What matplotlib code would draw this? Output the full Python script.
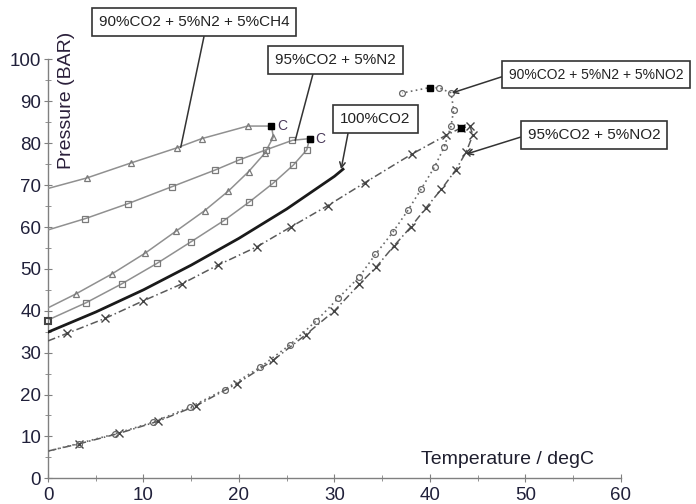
import matplotlib
matplotlib.use("Agg")
import matplotlib.pyplot as plt
from matplotlib.ticker import MultipleLocator

plt.rcParams['font.family'] = ['Liberation Sans', 'DejaVu Sans']

# ---- data ----
ch4_T = [0, 4.05, 8.7, 13.5, 16.1, 20.9, 23.4, 23.6, 22.7, 21.0, 18.9, 16.4, 13.4, 10.2, 6.7, 2.9, 0]
ch4_P = [69.2, 71.7, 75.3, 78.9, 81.1, 84.1, 84.1, 81.5, 77.6, 73.2, 68.6, 63.9, 59.0, 53.8, 48.8, 44.0, 40.7]
ch4_crit = (23.4, 84.1)

n2_T = [0, 3.9, 8.4, 12.95, 17.5, 20.0, 22.8, 25.6, 27.4, 27.1, 25.7, 23.6, 21.1, 18.4, 15.0, 11.4, 7.7, 3.97, 0]
n2_P = [59.3, 62.0, 65.6, 69.6, 73.6, 76.0, 78.4, 80.7, 81.1, 78.4, 74.8, 70.5, 66.0, 61.5, 56.5, 51.3, 46.4, 41.9, 37.8]
n2_crit = (27.4, 81.1)

co2_T = [0, 5, 10, 15, 20, 25, 30, 30.9]
co2_P = [34.9, 39.7, 45.0, 50.9, 57.3, 64.3, 72.1, 73.8]

no2_T = [0, 2.0, 6.0, 10.0, 14.0, 17.8, 21.9, 25.5, 29.3, 33.2, 38.1, 41.7, 43.3, 44.2, 44.5,
         43.8, 42.7, 41.2, 39.6, 38.0, 36.2, 34.4, 32.6, 30.0, 27.0, 23.6, 19.8, 15.5, 11.5, 7.4, 3.2, 0]
no2_P = [32.8, 34.6, 38.2, 42.4, 46.4, 50.9, 55.3, 60.1, 65.1, 70.6, 77.4, 81.9, 83.7, 84.0, 82.0,
         77.9, 73.6, 69.0, 64.6, 60.0, 55.4, 50.5, 46.3, 40.0, 34.3, 28.2, 22.6, 17.3, 13.6, 10.7, 8.2, 6.5]
no2_crit = (43.3, 83.7)

mix_T = [0, 3.2, 7.0, 11.0, 14.9, 18.5, 22.2, 25.3, 28.1, 30.4, 32.6, 34.3, 36.1, 37.7, 39.1,
         40.5, 41.5, 42.2, 42.5, 42.2, 41.0, 40.0, 37.1]
mix_P = [6.5, 8.3, 10.6, 13.4, 17.0, 21.2, 26.5, 31.8, 37.6, 43.0, 48.1, 53.5, 58.7, 64.0, 69.1,
         74.4, 79.1, 84.0, 88.0, 92.0, 93.2, 93.3, 92.0]
mix_crit = (40.0, 93.3)

labels = ["90%CO2 + 5%N2 + 5%CH4", "95%CO2 + 5%N2", "100%CO2",
          "90%CO2 + 5%N2 + 5%NO2", "95%CO2 + 5%NO2"]

# ---- figure ----
fig = plt.figure(figsize=(6.96, 5.04), dpi=100)
ax = fig.add_axes([0.069, 0.051, 0.823, 0.831])
ax.set_xlim(0, 60)
ax.set_ylim(0, 100)

gray = '#909090'
ax.plot(ch4_T, ch4_P, color=gray, lw=1.1, marker='^', ms=4.5, mfc='none', mec='#7a7a7a',
        mew=0.9, markevery=list(range(1, len(ch4_T) - 1)), zorder=3)
ax.plot(n2_T, n2_P, color=gray, lw=1.1, marker='s', ms=4.2, mfc='none', mec='#7a7a7a',
        mew=0.9, markevery=list(range(1, len(n2_T) - 1)), zorder=3)
ax.plot([0], [37.5], marker='s', ms=5, mfc='none', mec='#444444', mew=1.5, zorder=4, clip_on=False)
ax.plot(co2_T, co2_P, color='#1a1a1a', lw=2.0, zorder=3)
ax.plot(no2_T, no2_P, color='#5a5a5a', lw=1.1, ls=(0, (5, 2, 1, 2)), marker='x', ms=5.5,
        mec='#444444', mew=1.0, markevery=list(range(1, len(no2_T) - 1)), zorder=3)
ax.plot(mix_T, mix_P, color='#6a6a6a', lw=1.2, ls=(0, (1, 2)), marker='o', ms=4.2, mfc='none',
        mec='#666666', mew=0.9, markevery=list(range(1, len(mix_T))), zorder=3)

for (cx, cy) in [ch4_crit, n2_crit, no2_crit, mix_crit]:
    ax.plot([cx], [cy], marker='s', ms=4.5, color='black', zorder=5)
for (cx, cy) in [ch4_crit, n2_crit]:
    ax.text(cx + 0.6, cy, 'C', fontsize=10, color='#4a3a5a', va='center', ha='left')

# ---- annotations ----
bbox = dict(boxstyle='square,pad=0.45', fc='white', ec='#333333', lw=1.2)
ann = [
    (labels[0], (13.9, 79.0), (15.3, 108.9), (0.56, 0), '-', 11),
    (labels[1], (25.9, 80.7), (30.1, 99.9), (0.33, 0), '-', 11),
    (labels[2], (30.7, 73.8), (34.3, 85.8), (0.13, 0), '->', 11),
    (labels[3], (42.3, 92.0), (57.4, 96.4), (0.0, 0.5), '->', 10),
    (labels[4], (43.8, 77.4), (57.2, 82.0), (0.0, 0.5), '->', 11),
]
for txt, xy, xyt, rp, style, fs in ann:
    ax.annotate(txt, xy=xy, xytext=xyt, textcoords='data', ha='center', va='center',
                fontsize=fs, color='#222222', bbox=bbox, annotation_clip=False,
                arrowprops=dict(arrowstyle=style if style == '-' else '->,head_length=0.35,head_width=0.18',
                                color='#333333', lw=1.1, relpos=rp, shrinkA=0, shrinkB=0),
                zorder=6)

# ---- axes styling ----
for s in ['top', 'right']:
    ax.spines[s].set_visible(False)
for s in ['left', 'bottom']:
    ax.spines[s].set_color('#808080')
    ax.spines[s].set_linewidth(1.0)
ax.xaxis.set_major_locator(MultipleLocator(10))
ax.xaxis.set_minor_locator(MultipleLocator(5))
ax.yaxis.set_major_locator(MultipleLocator(10))
ax.yaxis.set_minor_locator(MultipleLocator(5))
ax.tick_params(which='major', direction='inout', length=6, color='#808080',
               labelsize=13.5, labelcolor='#20203a', pad=3)
ax.tick_params(which='minor', direction='inout', length=4, color='#808080')
ax.tick_params(axis='y', pad=2)

ax.text(0.033, 1.065, 'Pressure (BAR)', transform=ax.transAxes, rotation=90,
        ha='center', va='top', fontsize=14, color='#2a1f3a')
ax.text(0.802, 0.045, 'Temperature / degC', transform=ax.transAxes,
        ha='center', va='center', fontsize=14, color='#1f1f2f')

fig.savefig('out.png', dpi=100)
